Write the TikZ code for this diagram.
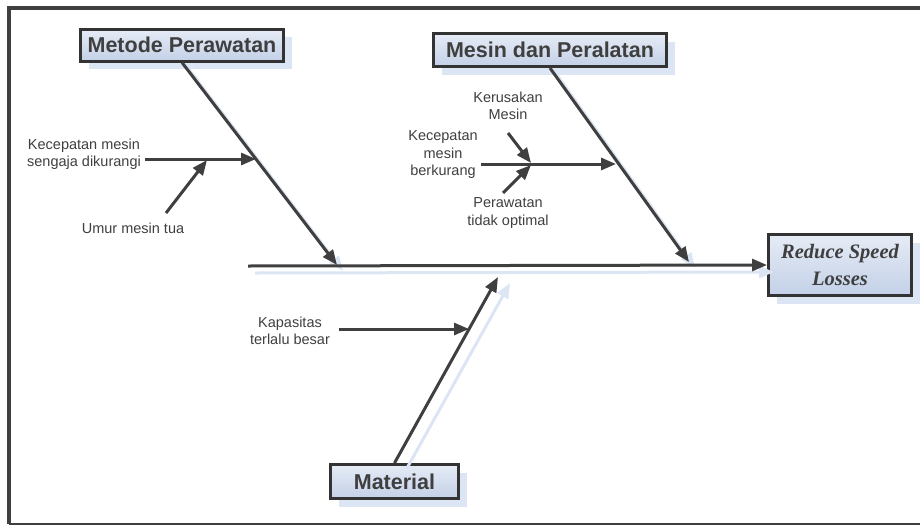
\documentclass[tikz,border=0pt]{standalone}
\usepackage{fontspec}
\setmainfont{Liberation Sans}
\newfontfamily\timesf{Liberation Serif}
\usetikzlibrary{arrows.meta,shadows}
\definecolor{ink}{HTML}{3F3F3F}
\definecolor{boxline}{HTML}{333333}
\definecolor{shadowc}{HTML}{DCE5F3}
\definecolor{boxtop}{HTML}{E6ECF6}
\definecolor{boxbot}{HTML}{C3D0E7}
\begin{document}
\begin{tikzpicture}[x=1pt,y=-1pt,
  catbox/.style={draw=boxline, line width=3pt, top color=boxtop, bottom color=boxbot,
    text=ink, font=\bfseries\fontsize{21.5}{24}\selectfont, inner sep=0pt,
    drop shadow={shadow xshift=8pt, shadow yshift=-8pt, fill=shadowc, opacity=1}},
  bone/.style={draw=ink, line width=3pt, -{Triangle[length=15pt,width=12pt]}},
  boneshade/.style={draw=shadowc, fill=shadowc, line width=3pt, -{Triangle[length=15pt,width=12pt]}},
  lbl/.style={text=ink, font=\fontsize{14.5}{17.5}\selectfont, align=center, inner sep=0pt},
  frame/.style={draw=ink, line width=4pt}]
\useasboundingbox (0,0) rectangle (920,525);
% frame
\draw[frame] (920,7.5) -- (8.5,7.5) -- (8.5,523.5);
\draw[draw=ink, line width=2pt] (8.5,523.5) -- (920,523.5);

% category boxes
\node[catbox, minimum width=203pt, minimum height=32pt] (mp) at (182,45) {Metode Perawatan};
\node[catbox, minimum width=233pt, minimum height=33pt] (mdp) at (550,50) {Mesin dan Peralatan};
\node[catbox, minimum width=128pt, minimum height=34pt] (mat) at (394.5,481.5) {Material};
\node[catbox, minimum width=143pt, minimum height=61pt,
  font=\timesf\bfseries\itshape\fontsize{20.5}{27}\selectfont, align=center] (rsl) at (840,265) {Reduce Speed\\Losses};

% points on the bones
\coordinate (sp0) at (248,266);
\coordinate (t1) at (337,265);
\coordinate (t2) at (689,262);
\coordinate (t3) at (498,277);
\coordinate (a1s) at (145,159);
\coordinate (a1t) at (256,159);
\coordinate (a2s) at (166,213);
\coordinate (a2t) at (207,160);
\coordinate (b1s) at (481,164);
\coordinate (b1t) at (616,164);
\coordinate (b2s) at (508,133);
\coordinate (b2t) at (531,163);
\coordinate (b3s) at (503,193);
\coordinate (b3t) at (531,165);
\coordinate (c1s) at (339,329);
\coordinate (c1t) at (469,329);

% shadows of the main bones
\draw[boneshade] ([shift={(7,7)}]sp0) -- ([shift={(7,7)}]rsl.west);
\draw[boneshade] ([shift={(7,7)}]mp.south) -- ([shift={(6,6)}]t1);
\draw[boneshade] ([shift={(7,7)}]mdp.south) -- ([shift={(6,6)}]t2);
\draw[boneshade] ([shift={(12,6)}]mat.north) -- ([shift={(12,6)}]t3);

% main bones
\draw[bone] (sp0) -- (rsl.west);
\draw[bone] (mp.south) -- (t1);
\draw[bone] (mdp.south) -- (t2);
\draw[bone] (mat.north) -- (t3);

% sub-causes
\draw[bone] (a1s) -- (a1t);
\draw[bone] (a2s) -- (a2t);
\draw[bone] (b1s) -- (b1t);
\draw[bone] (b2s) -- (b2t);
\draw[bone] (b3s) -- (b3t);
\draw[bone] (c1s) -- (c1t);

% labels
\node[lbl] (l1) at (84,154) {Kecepatan mesin\\sengaja dikurangi};
\node[lbl] (l2) at (133,228) {Umur mesin tua};
\node[lbl] (l3) at (508,106) {Kerusakan\\Mesin};
\node[lbl] (l4) at (443,155) {Kecepatan\\mesin\\berkurang};
\node[lbl] (l5) at (508,213) {Perawatan\\tidak optimal};
\node[lbl] (l6) at (290,331) {Kapasitas\\terlalu besar};
\end{tikzpicture}
\end{document}
